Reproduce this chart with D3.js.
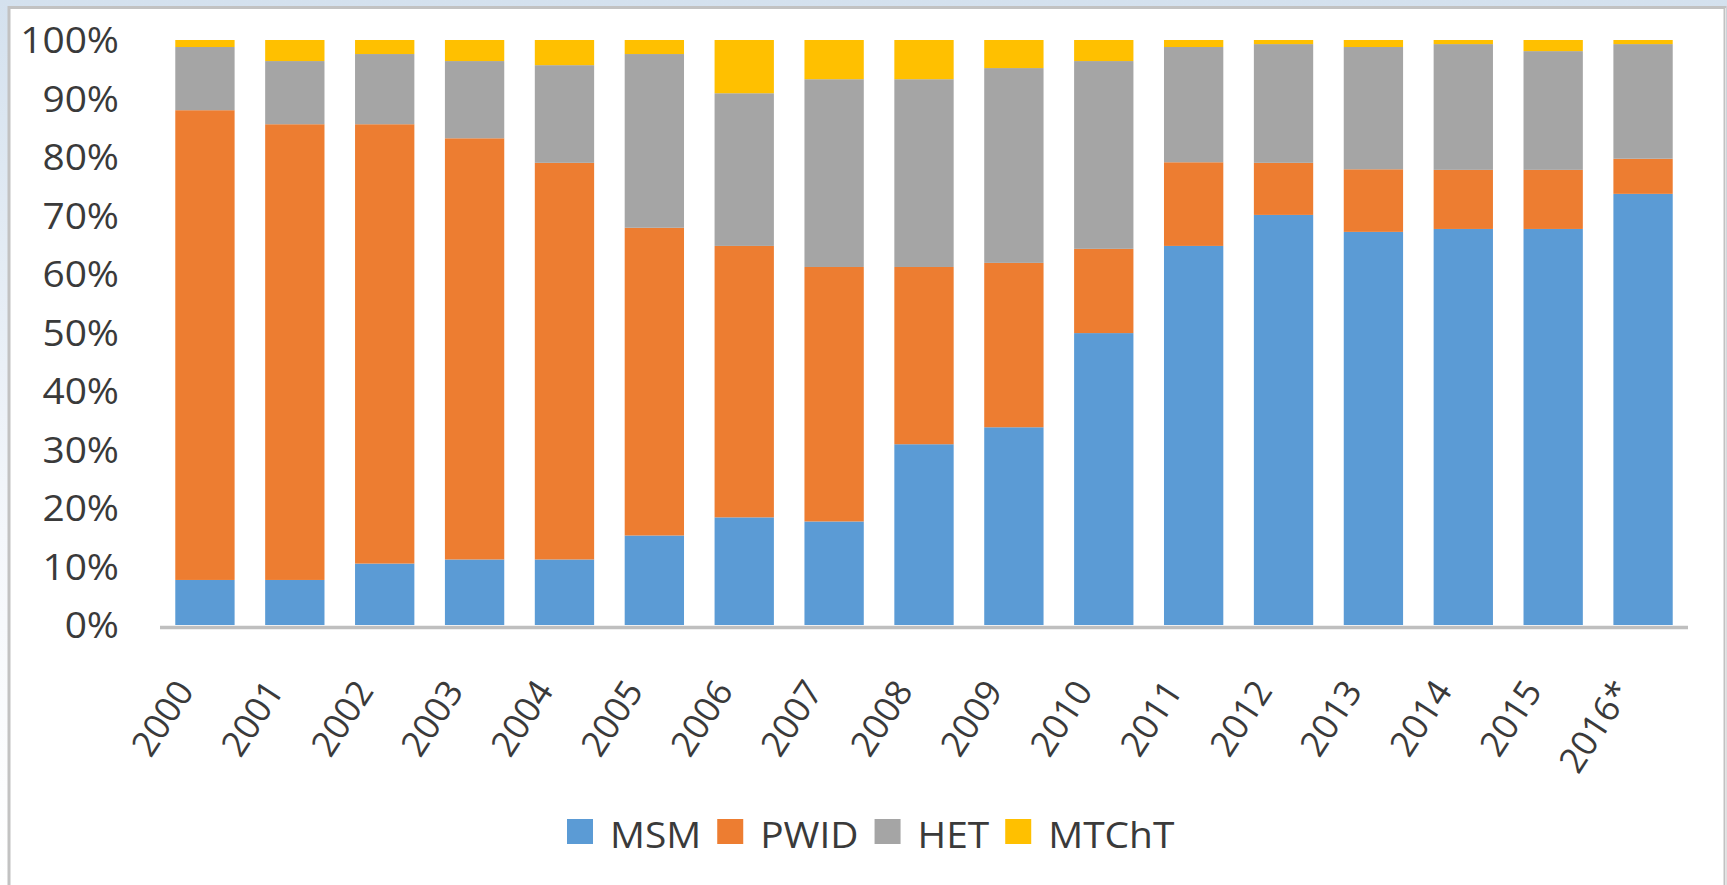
<!DOCTYPE html>
<html>
<head>
<meta charset="utf-8">
<script src="https://cdn.jsdelivr.net/npm/d3@7"></script>
<style>
  html, body { margin: 0; padding: 0; background: #ffffff; overflow: hidden; }
  svg { display: block; }
  text { font-family: "Open Sans", "Noto Sans", sans-serif; fill: #3a3a3a; }
</style>
</head>
<body>
<svg id="chart" width="1727" height="885"></svg>
<script>
// ---- data (percent of cases) ----
const years = ["2000","2001","2002","2003","2004","2005","2006","2007","2008","2009","2010","2011","2012","2013","2014","2015","2016*"];
const seriesNames = ["MSM","PWID","HET","MTChT"];
const msm   = [7.7, 7.7, 10.5, 11.2, 11.2, 15.3, 18.4, 17.7, 30.9, 33.8, 49.9, 64.8, 70.1, 67.2, 67.7, 67.7, 73.7];
const pwid  = [80.3, 77.9, 75.1, 72.0, 67.8, 52.6, 46.4, 43.5, 30.3, 28.1, 14.4, 14.3, 8.9, 10.7, 10.1, 10.1, 6.0];
const het   = [10.8, 10.8, 12.0, 13.2, 16.7, 29.7, 26.1, 32.1, 32.1, 33.3, 32.1, 19.7, 20.3, 20.9, 21.5, 20.3, 19.6];
const mtcht = [1.2, 3.6, 2.4, 3.6, 4.3, 2.4, 9.1, 6.7, 6.7, 4.8, 3.6, 1.2, 0.7, 1.2, 0.7, 1.9, 0.7];
const yTicks = [0, 0.1, 0.2, 0.3, 0.4, 0.5, 0.6, 0.7, 0.8, 0.9, 1.0];
const colors = ["#5b9bd5", "#ed7d31", "#a5a5a5", "#ffc000"];

// table built from the arrays
const rows = years.map((y, i) => ({year: y, MSM: msm[i], PWID: pwid[i], HET: het[i], MTChT: mtcht[i]}));

const svg = d3.select("#chart");
const W = 1727, H = 885;
const TEXT_STRETCH = 1.08;

// ---- frame / background ----
const defs = svg.append("defs");
const grad = defs.append("linearGradient").attr("id", "bg").attr("x1", 0).attr("y1", 0).attr("x2", 0).attr("y2", 1);
grad.append("stop").attr("offset", "0%").attr("stop-color", "#d4e1ee");
grad.append("stop").attr("offset", "60%").attr("stop-color", "#f4f7fb");
grad.append("stop").attr("offset", "100%").attr("stop-color", "#ffffff");
svg.append("rect").attr("x", 0).attr("y", 0).attr("width", W).attr("height", H).attr("fill", "url(#bg)");
svg.append("rect").attr("x", 9).attr("y", 7.5).attr("width", 1716).attr("height", 885)
  .attr("fill", "#ffffff").attr("stroke", "#c2c2c2").attr("stroke-width", 3);
svg.append("line").attr("x1", 1725.5).attr("x2", 1725.5).attr("y1", 8).attr("y2", H)
  .attr("stroke", "#e4e4e4").attr("stroke-width", 1);

// ---- scales ----
const x = d3.scaleBand().domain(years).range([160, 1688]).paddingInner(0.34).paddingOuter(0.17);
const y = d3.scaleLinear().domain([0, 1]).range([625, 40]);
const color = d3.scaleOrdinal().domain(seriesNames).range(colors);

const stacked = d3.stack().keys(seriesNames).offset(d3.stackOffsetExpand)(rows);

// ---- bars ----
svg.append("g").selectAll("g").data(stacked).join("g")
  .attr("fill", d => color(d.key))
  .selectAll("rect").data(d => d).join("rect")
  .attr("x", d => x(d.data.year))
  .attr("width", x.bandwidth())
  .attr("y", d => y(d[1]))
  .attr("height", d => y(d[0]) - y(d[1]));

// ---- x axis line ----
svg.append("line").attr("x1", 160).attr("x2", 1688).attr("y1", 627.5).attr("y2", 627.5)
  .attr("stroke", "#bfbfbf").attr("stroke-width", 3.5);

// ---- y axis labels ----
const yAxis = d3.axisLeft(y).tickValues(yTicks).tickFormat(d3.format(".0%")).tickSize(0).tickPadding(0);
const gy = svg.append("g").attr("transform", "translate(119,0)").call(yAxis);
gy.select(".domain").remove();
gy.selectAll("text").attr("font-size", 36).attr("font-family", "'Open Sans', sans-serif")
  .attr("fill", "#3a3a3a").attr("x", 0).attr("dy", "0.36em")
  .attr("transform", `scale(${TEXT_STRETCH},1)`);

// ---- x axis labels ----
const xAxis = d3.axisBottom(x).tickSize(0).tickPadding(0);
const gx = svg.append("g").call(xAxis);
gx.select(".domain").remove();
gx.selectAll(".tick").attr("transform", d => `translate(${x(d) + x.bandwidth() / 2 - 10},691)`);
gx.selectAll("text")
  .attr("font-size", 35.5).attr("font-family", "'Open Sans', sans-serif").attr("fill", "#3a3a3a")
  .attr("text-anchor", "end").attr("y", 0).attr("dy", 0)
  .attr("transform", "rotate(-57)");

// ---- legend ----
const legend = svg.append("g");
let lx = 567;
seriesNames.forEach((name, i) => {
  const g = legend.append("g");
  g.append("rect").attr("x", lx).attr("y", 819).attr("width", 26).attr("height", 25).attr("fill", colors[i]);
  const t = g.append("text").attr("x", 0).attr("y", 0).attr("font-size", 36)
    .attr("transform", `translate(${lx + 43},848) scale(${TEXT_STRETCH},1)`).text(name);
  const tw = t.node().getComputedTextLength() * TEXT_STRETCH;
  lx = lx + 43 + tw + 16;
});
</script>
</body>
</html>
